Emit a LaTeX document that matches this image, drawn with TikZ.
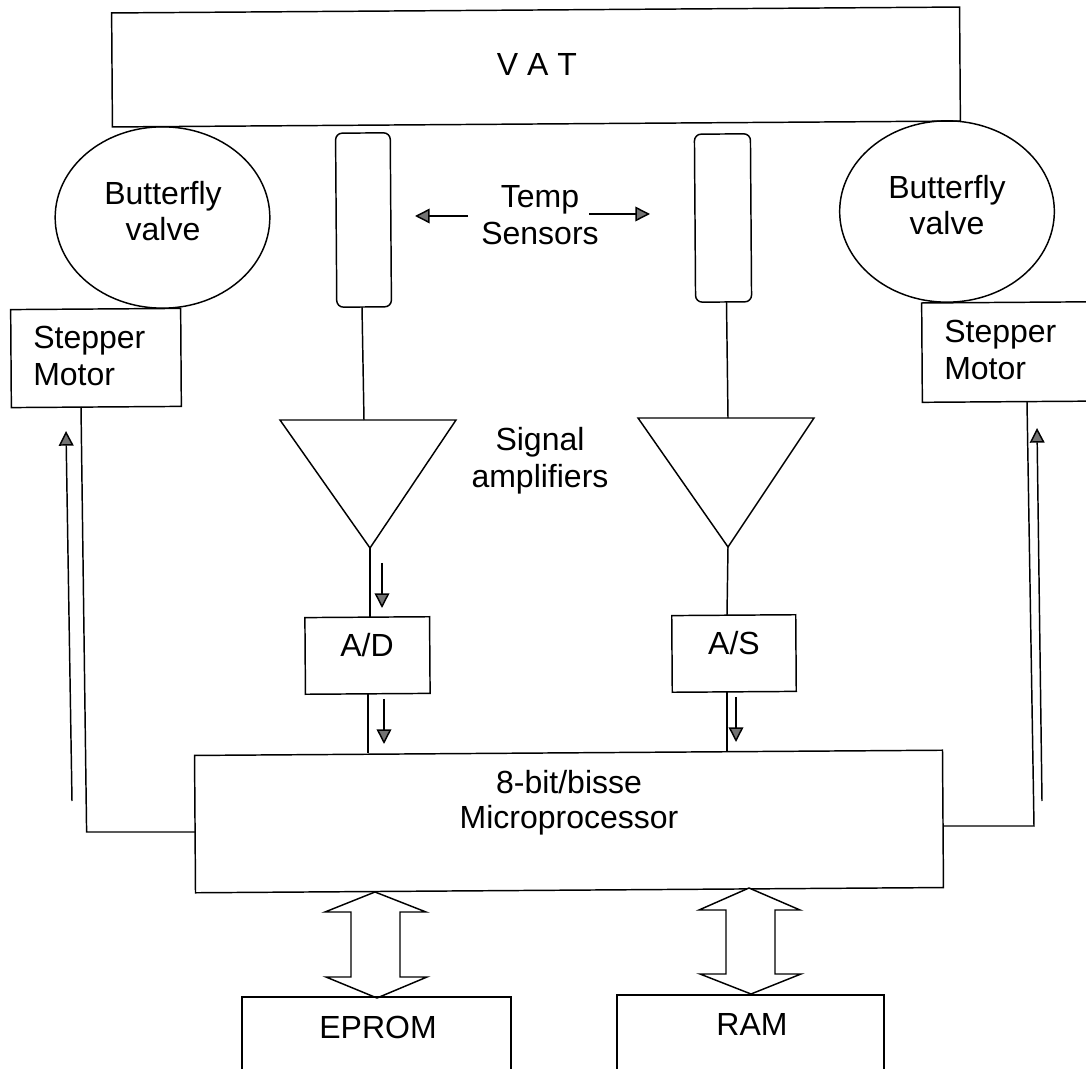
\documentclass[tikz,border=0pt]{standalone}
\usepackage{fontspec}
\setmainfont{Liberation Sans}
\usetikzlibrary{arrows.meta,shapes.geometric}
\tikzset{
  blockbox/.style={draw,line width=1.1pt,inner sep=0pt,rotate=0.4},
  valve/.style={draw,ellipse,line width=1.1pt,inner sep=0pt},
  sensor/.style={draw,rounded corners=5pt,line width=1.1pt,inner sep=0pt,rotate=0.4},
  amp/.style={draw,line width=1.1pt},
  lbl/.style={font=\fontsize{24}{27.5}\selectfont,align=center,inner sep=0pt},
  lblone/.style={font=\fontsize{24}{27.5}\selectfont,anchor=base,inner sep=0pt},
  wire/.style={line width=1.1pt},
  flow/.style={line width=1.1pt,-{Triangle[length=11pt,width=11pt,fill=black!55]}},
  fat/.style={draw,line width=1.1pt,fill=white}
}
\begin{document}
\begin{tikzpicture}[x=0.75pt,y=-0.75pt]
  \useasboundingbox (0,0) rectangle (1086,1069);
  \node[blockbox,minimum width=636pt,minimum height=85.5pt] (vat) at (536,67) {};
  \node[lblone] (vatlabel) at (537,76) {V A T};
  % valves
  \node[valve,minimum width=161pt,minimum height=136pt] (valveL) at (162.5,217.5) {};
  \node[lbl] (valveLlabel) at (163,211) {Butterfly\\valve};
  \node[valve,minimum width=161pt,minimum height=136pt] (valveR) at (947,211.5) {};
  \node[lbl] (valveRlabel) at (947,205) {Butterfly\\valve};
  \node[blockbox,minimum width=127.5pt,minimum height=73.5pt] (motorL) at (96,358) {};
  \node[lbl,align=left,anchor=west] (motorLlabel) at (33,356) {Stepper\\Motor};
  \node[blockbox,minimum width=141pt,minimum height=74.5pt] (motorR) at (1016,352) {};
  \node[lbl,align=left,anchor=west] (motorRlabel) at (944,350) {Stepper\\Motor};
  % sensors
  \node[sensor,minimum width=41pt,minimum height=130.5pt] (sensorL) at (363.5,220) {};
  \node[sensor,minimum width=42pt,minimum height=126pt] (sensorR) at (723,218) {};
  \node[lbl] (temp) at (540,215) {Temp\\Sensors};
  \coordinate (tempLtail) at (468,216);
  \coordinate (tempLhead) at (415,216);
  \coordinate (tempRtail) at (589,214);
  \coordinate (tempRhead) at (650,214);
  \draw[flow] (tempLtail)--(tempLhead);
  \draw[flow] (tempRtail)--(tempRhead);
  % amplifiers
  \coordinate (ampLa) at (280,420); \coordinate (ampLb) at (456,420); \coordinate (ampLc) at (370,548);
  \coordinate (ampRa) at (638,418); \coordinate (ampRb) at (814,418); \coordinate (ampRc) at (728,547);
  \draw[amp] (ampLa)--(ampLb)--(ampLc)--cycle;
  \draw[amp] (ampRa)--(ampRb)--(ampRc)--cycle;
  \node[lbl] (signal) at (540,461) {Signal\\amplifiers};
  % converters
  \node[blockbox,minimum width=93.5pt,minimum height=57.5pt] (ad) at (367.5,655.5) {};
  \node[lblone] (adlabel) at (367,657) {A/D};
  \node[blockbox,minimum width=93pt,minimum height=57.5pt] (as) at (734,653.5) {};
  \node[lblone] (aslabel) at (734,655) {A/S};
  \node[blockbox,minimum width=561pt,minimum height=103pt] (micro) at (569,821.5) {};
  \node[lbl,font=\fontsize{24}{26}\selectfont] (microlabel) at (569,802.5) {8-bit/bisse\\Microprocessor};
  % wires
  \coordinate (sensorLout) at (362,307); \coordinate (ampLin) at (364,420);
  \coordinate (sensorRout) at (726.5,302); \coordinate (ampRin) at (728,418);
  \coordinate (adin) at (370,617); \coordinate (adout) at (368,694); \coordinate (microinL) at (368,753);
  \coordinate (asin) at (727,615); \coordinate (asout) at (727,692); \coordinate (microinR) at (727,752);
  \coordinate (motorLout) at (81,407); \coordinate (cornerL) at (86.6,832); \coordinate (microL) at (195,832);
  \coordinate (motorRin) at (1027,402); \coordinate (cornerR) at (1034,826); \coordinate (microR) at (943,826);
  \draw[wire] (sensorLout)--(ampLin);
  \draw[wire] (sensorRout)--(ampRin);
  \draw[wire] (ampLc)--(adin);
  \draw[wire] (ampRc)--(asin);
  \draw[wire] (adout)--(microinL);
  \draw[wire] (asout)--(microinR);
  \draw[wire] (motorLout)--(cornerL)--(microL);
  \draw[wire] (microR)--(cornerR)--(motorRin);
  % flow arrows
  \draw[flow] (382,563)--(382,608);
  \draw[flow] (384,699)--(384,744);
  \draw[flow] (736,697)--(736,742);
  \draw[flow] (72,801)--(66,431);
  \draw[flow] (1042,801)--(1037,428);
  % bus arrows
  \draw[fat] (375,892)--(426,912)--(400,912)--(400,977)--(427,977)--(377,998)--(326,977)--(351,977)--(351,912)--(325,912)--cycle;
  \draw[fat] (749,888)--(800,910)--(775,910)--(775,974)--(801,974)--(751,994)--(700,974)--(726,974)--(726,910)--(699,910)--cycle;
  % memory
  \node[blockbox,rotate=-0.4,minimum width=201.75pt,minimum height=90pt] (epromBox) at (376.5,1057) {};
  \node[blockbox,rotate=-0.4,minimum width=200.25pt,minimum height=90pt] (ramBox) at (750.5,1055) {};
  \node[lblone] (eprom) at (378,1038) {EPROM};
  \node[lblone] (ram) at (752,1035) {RAM};
\end{tikzpicture}
\end{document}
